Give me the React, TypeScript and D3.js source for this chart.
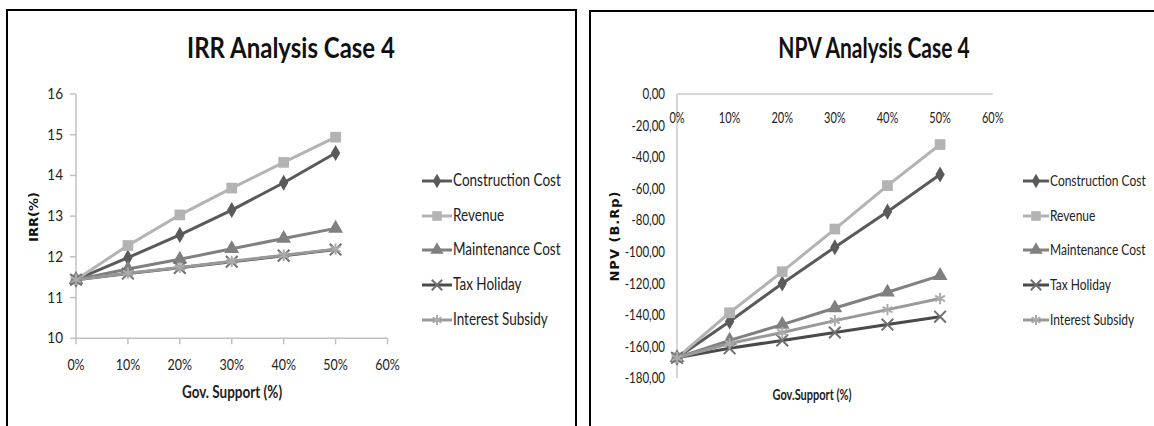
import React from "react";
import * as d3 from "d3";

// ---------- data ----------
const supportLevels = [0, 0.1, 0.2, 0.3, 0.4, 0.5];
const seriesNames = ["Construction Cost", "Revenue", "Maintenance Cost", "Tax Holiday", "Interest Subsidy"];

const irrConstruction = [11.44, 11.98, 12.54, 13.15, 13.82, 14.55];
const irrRevenue = [11.44, 12.28, 13.03, 13.69, 14.32, 14.94];
const irrMaintenance = [11.44, 11.7, 11.94, 12.2, 12.45, 12.7];
const irrTaxHoliday = [11.44, 11.59, 11.73, 11.88, 12.03, 12.18];
const irrInterestSubsidy = [11.44, 11.6, 11.74, 11.89, 12.04, 12.19];

const npvConstruction = [-167, -144, -120, -97, -74.5, -51];
const npvRevenue = [-167, -138.5, -112.5, -85.5, -58, -32];
const npvMaintenance = [-167, -156, -146, -135.5, -125.5, -115];
const npvTaxHoliday = [-167, -161, -156, -151, -146, -141];
const npvInterestSubsidy = [-167, -158, -151, -143.5, -136.5, -129.5];

const xTicks = [0, 0.1, 0.2, 0.3, 0.4, 0.5, 0.6];
const irrTicks = [10, 11, 12, 13, 14, 15, 16];
const npvTicks = [0, -20, -40, -60, -80, -100, -120, -140, -160, -180];

// ---------- styles ----------
const styles = [
  { line: "#5a5a5a", marker: "#5a5a5a", shape: "diamond" },
  { line: "#b3b3b3", marker: "#b3b3b3", shape: "square" },
  { line: "#808080", marker: "#808080", shape: "triangle" },
  { line: "#4a4a4a", marker: "#707070", shape: "x" },
  { line: "#999999", marker: "#ababab", shape: "asterisk" },
];

const FONT = "Lato, 'Open Sans', sans-serif";

function Marker({ shape, x, y, color, scale = 1 }: any) {
  let p = "";
  let filled = true;
  if (shape === "diamond") p = d3.symbol(d3.symbolDiamond, 75 * scale)()!;
  else if (shape === "square") p = d3.symbol(d3.symbolSquare, 115 * scale)()!;
  else if (shape === "triangle") p = d3.symbol(d3.symbolTriangle, 95 * scale)()!;
  else if (shape === "x") { p = d3.symbol(d3.symbolX, 90 * scale)()!; filled = false; }
  else { p = d3.symbol(d3.symbolAsterisk, 90 * scale)()!; filled = false; }
  return (
    <path
      d={p}
      transform={`translate(${x},${y})`}
      fill={filled ? color : "none"}
      stroke={color}
      strokeWidth={filled ? 0 : 2}
    />
  );
}

function SText({ x, y, sy = 1.2, size, weight = "normal", anchor = "start", family = FONT, fill = "#222", children }: any) {
  return (
    <text
      transform={`translate(${x},${y}) scale(1,${sy})`}
      fontSize={size}
      fontWeight={weight}
      textAnchor={anchor}
      fontFamily={family}
      fill={fill}
    >
      {children}
    </text>
  );
}

function Legend({ x0, x1, textX, size, sy }: any) {
  const rows = [181, 216, 250, 285, 320];
  return (
    <g>
      {seriesNames.map((name, i) => (
        <g key={name}>
          <line x1={x0} x2={x1} y1={rows[i]} y2={rows[i]} stroke={styles[i].line} strokeWidth={3} />
          <Marker shape={styles[i].shape} x={(x0 + x1) / 2} y={rows[i]} color={styles[i].marker} scale={0.8} />
          <SText x={textX} y={rows[i] + 5} size={size} sy={sy}>{name}</SText>
        </g>
      ))}
    </g>
  );
}

function IRRChart() {
  const x = d3.scaleLinear().domain([0, 0.6]).range([76, 387.5]);
  const y = d3.scaleLinear().domain([10, 16]).range([338.3, 94]);
  const data = [irrConstruction, irrRevenue, irrMaintenance, irrTaxHoliday, irrInterestSubsidy];
  const line = d3.line<number>().x((_, i) => x(supportLevels[i])).y((d) => y(d));
  const axisColor = "#c0c0c0";
  return (
    <g>
      <rect x={7} y={10} width={569} height={430} fill="white" stroke="#000" strokeWidth={2} />
      <SText x={291} y={58} size={24} weight="bold" anchor="middle" sy={1.17} fill="#111">IRR Analysis Case 4</SText>
      {/* axes */}
      <line x1={x(0)} x2={x(0)} y1={y(16)} y2={y(10)} stroke={axisColor} strokeWidth={1.5} />
      <line x1={x(0)} x2={x(0.6)} y1={y(10)} y2={y(10)} stroke={axisColor} strokeWidth={1.5} />
      {irrTicks.map((t) => (
        <g key={t}>
          <line x1={x(0) - 6} x2={x(0)} y1={y(t)} y2={y(t)} stroke={axisColor} strokeWidth={1.5} />
          <SText x={63} y={y(t) + 5} size={13.5} anchor="end" sy={1.2}>{t}</SText>
        </g>
      ))}
      {xTicks.map((t) => (
        <g key={t}>
          <line x1={x(t)} x2={x(t)} y1={y(10)} y2={y(10) + 6} stroke={axisColor} strokeWidth={1.5} />
          <SText x={x(t)} y={370} size={12.5} anchor="middle" sy={1.25}>{d3.format(".0%")(t)}</SText>
        </g>
      ))}
      <SText x={232} y={398} size={13.5} weight="bold" anchor="middle" sy={1.2}>Gov. Support (%)</SText>
      <text
        transform={`translate(38,217) rotate(-90)`}
        fontSize={13}
        fontWeight="bold"
        fontFamily="'DejaVu Sans', sans-serif"
        textAnchor="middle"
        fill="#111"
      >
        IRR(%)
      </text>
      {data.map((d, i) => (
        <g key={i}>
          <path d={line(d)!} fill="none" stroke={styles[i].line} strokeWidth={3} />
          {d.map((v, j) => (
            <Marker key={j} shape={styles[i].shape} x={x(supportLevels[j])} y={y(v)} color={styles[i].marker} />
          ))}
        </g>
      ))}
      <Legend x0={422} x1={452} textX={453} size={13.5} sy={1.28} />
    </g>
  );
}

function NPVChart() {
  const x = d3.scaleLinear().domain([0, 0.6]).range([677, 992.7]);
  const y = d3.scaleLinear().domain([-180, 0]).range([378.3, 94]);
  const data = [npvConstruction, npvRevenue, npvMaintenance, npvTaxHoliday, npvInterestSubsidy];
  const line = d3.line<number>().x((_, i) => x(supportLevels[i])).y((d) => y(d));
  const axisColor = "#c8c8c8";
  const fmt = (v: number) => d3.format(".2f")(v).replace(".", ",").replace("−", "-");
  return (
    <g>
      <rect x={590} y={11} width={600} height={430} fill="white" stroke="#000" strokeWidth={2} />
      <SText x={874} y={58} size={21} weight="bold" anchor="middle" sy={1.38} fill="#111">NPV Analysis Case 4</SText>
      <line x1={x(0)} x2={x(0)} y1={y(0)} y2={y(-180)} stroke={axisColor} strokeWidth={1.5} />
      <line x1={x(0)} x2={x(0.6)} y1={y(0)} y2={y(0)} stroke={axisColor} strokeWidth={1.5} />
      {npvTicks.map((t) => (
        <SText key={t} x={665} y={y(t) + 5} size={11.5} anchor="end" sy={1.3}>{fmt(t)}</SText>
      ))}
      {xTicks.map((t) => (
        <SText key={t} x={x(t)} y={123} size={11} anchor="middle" sy={1.35}>{d3.format(".0%")(t)}</SText>
      ))}
      <SText x={812} y={400} size={11} weight="bold" anchor="middle" sy={1.45}>Gov.Support (%)</SText>
      <text
        transform={`translate(619,236) rotate(-90)`}
        fontSize={13}
        fontWeight="bold"
        fontFamily="'DejaVu Sans', sans-serif"
        textAnchor="middle"
        letterSpacing={1}
        fill="#111"
      >
        NPV (B.Rp)
      </text>
      {data.map((d, i) => (
        <g key={i}>
          <path d={line(d)!} fill="none" stroke={styles[i].line} strokeWidth={3} />
          {d.map((v, j) => (
            <Marker key={j} shape={styles[i].shape} x={x(supportLevels[j])} y={y(v)} color={styles[i].marker} />
          ))}
        </g>
      ))}
      <Legend x0={1023} x1={1049} textX={1050} size={12} sy={1.28} />
    </g>
  );
}

export default function App() {
  return (
    <svg
      width={1154}
      height={426}
      style={{ position: "absolute", left: 0, top: 0, display: "block", background: "white" }}
    >
      <rect x={0} y={0} width={1154} height={426} fill="white" />
      <IRRChart />
      <NPVChart />
    </svg>
  );
}
